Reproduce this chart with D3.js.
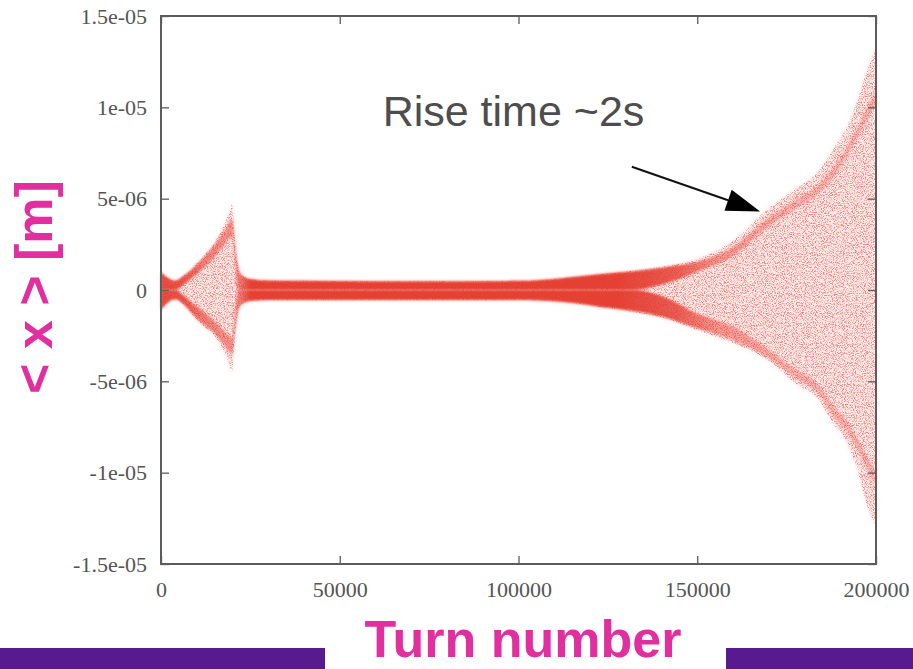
<!DOCTYPE html>
<html><head><meta charset="utf-8">
<script src="https://cdn.jsdelivr.net/npm/d3@7/dist/d3.min.js"></script>
<style>body{margin:0;background:#fff}svg{display:block}</style>
</head><body>
<svg id="c" width="913" height="669"></svg>
<script>
// ---- data (values in micrometres, i.e. 1e-6 m) ----
const turns = [0, 1000, 2500, 4000, 6000, 9000, 12000, 15000, 17500, 19000, 19900, 20700, 21500, 22500, 25000, 30000, 40000, 60000, 80000, 100000, 112000, 122000, 132000, 141000, 150000, 160000, 169500, 178000, 183500, 188000, 192000, 195000, 197500, 200000];
const upperEnv = [1.0, 0.8, 0.6, 0.5, 0.75, 1.25, 1.9, 2.6, 3.5, 4.2, 4.7, 2.7, 1.4, 0.85, 0.6, 0.52, 0.5, 0.48, 0.48, 0.5, 0.65, 0.85, 1.05, 1.3, 1.7, 2.7, 4.4, 5.6, 6.4, 7.7, 9.0, 10.5, 12.0, 13.3];
const lowerEnv = [-1.1, -0.85, -0.6, -0.5, -0.75, -1.4, -2.0, -2.5, -3.3, -4.0, -4.5, -2.4, -1.3, -0.8, -0.6, -0.55, -0.55, -0.55, -0.55, -0.55, -0.65, -0.9, -1.2, -1.55, -2.2, -2.9, -3.8, -5.2, -5.9, -7.3, -8.4, -10.0, -11.8, -12.9];
const upperDenseOut = [1.0, 0.8, 0.6, 0.5, 0.72, 1.2, 1.8, 2.5, 3.2, 3.7, 3.9, 2.5, 1.35, 0.85, 0.6, 0.52, 0.5, 0.48, 0.48, 0.5, 0.65, 0.85, 1.02, 1.25, 1.55, 2.35, 3.9, 5.0, 5.7, 6.7, 7.9, 9.0, 10.0, 11.0];
const upperDenseIn = [0, 0, 0, 0, 0.25, 0.7, 1.2, 1.8, 2.4, 2.8, 2.9, 1.5, 0, 0, 0, 0, 0, 0, 0, 0, 0, 0, 0, 0.35, 1.0, 1.85, 3.4, 4.5, 5.2, 6.1, 7.3, 8.4, 9.3, 10.2];
const lowerDenseOut = [-1.1, -0.85, -0.6, -0.5, -0.72, -1.35, -1.9, -2.4, -3.0, -3.4, -3.5, -2.3, -1.25, -0.8, -0.6, -0.55, -0.55, -0.55, -0.55, -0.55, -0.65, -0.9, -1.15, -1.5, -2.1, -2.75, -3.7, -4.9, -5.6, -6.9, -7.8, -8.8, -9.8, -10.8];
const lowerDenseIn = [0, 0, 0, 0, -0.25, -0.75, -1.2, -1.7, -2.2, -2.5, -2.6, -1.3, 0, 0, 0, 0, 0, 0, 0, 0, 0, 0, 0, -0.4, -1.3, -2.0, -3.2, -4.4, -5.1, -6.3, -7.2, -8.2, -9.1, -10.0];

const xTicks = [0, 50000, 100000, 150000, 200000];
const xTickLabels = ["0", "50000", "100000", "150000", "200000"];
const yTicks = [-1.5e-5, -1e-5, -5e-6, 0, 5e-6, 1e-5, 1.5e-5];
const yTickLabels = ["-1.5e-05", "-1e-05", "-5e-06", "0", "5e-06", "1e-05", "1.5e-05"];

const annotationText = "Rise time ~2s";
const annotationPos = [62000, 9.0e-6];
const arrowFrom = [131700, 6.75e-6];
const arrowTo = [167600, 4.3e-6];
const yTitle = "< x > [m]";
const xTitle = "Turn number";

// ---- layout ----
const W = 913, H = 669;
const L = 161, R = 876, T = 16, B = 564;
const svg = d3.select("#c");
const x = d3.scaleLinear().domain([0, 200000]).range([L, R]);
const y = d3.scaleLinear().domain([-1.5e-5, 1.5e-5]).range([B, T]);
const um = v => y(v * 1e-6);

const defs = svg.append("defs");
const f = defs.append("filter").attr("id", "speckle").attr("x", 0).attr("y", 0).attr("width", "100%").attr("height", "100%");
f.append("feTurbulence").attr("type", "fractalNoise").attr("baseFrequency", 0.9).attr("numOctaves", 2).attr("seed", 7).attr("result", "n");
f.append("feColorMatrix").attr("in", "n").attr("type", "matrix")
  .attr("values", "0 0 0 0 0.87  0 0 0 0 0.22  0 0 0 0 0.2  4.2 0 0 0 -1.95");
const blur = defs.append("filter").attr("id", "soft");
blur.append("feGaussianBlur").attr("stdDeviation", 0.9);
const blur2 = defs.append("filter").attr("id", "soft2").attr("x", "-5%").attr("y", "-5%").attr("width", "110%").attr("height", "110%");
blur2.append("feGaussianBlur").attr("stdDeviation", 2);

const grad = defs.append("linearGradient").attr("id", "dens").attr("gradientUnits", "userSpaceOnUse")
  .attr("x1", x(0)).attr("x2", x(200000)).attr("y1", 0).attr("y2", 0);
[[0, 0.9], [0.03, 0.85], [0.06, 0.6], [0.095, 0.45], [0.11, 0.6], [0.125, 0.95], [0.64, 0.95], [0.72, 0.8], [0.78, 0.45], [0.88, 0.3], [1, 0.28]]
  .forEach(([o, a]) => grad.append("stop").attr("offset", o).attr("stop-color", "#e43a2e").attr("stop-opacity", a));

const idx = d3.range(turns.length);
const env = d3.area().curve(d3.curveMonotoneX).x(i => x(turns[i])).y0(i => um(lowerEnv[i])).y1(i => um(upperEnv[i]));
const upBand = d3.area().curve(d3.curveMonotoneX).x(i => x(turns[i])).y0(i => um(upperDenseIn[i])).y1(i => um(upperDenseOut[i]));
const loBand = d3.area().curve(d3.curveMonotoneX).x(i => x(turns[i])).y0(i => um(lowerDenseOut[i])).y1(i => um(lowerDenseIn[i]));

defs.append("clipPath").attr("id", "envclip").append("path").attr("d", env(idx));

// light envelope
svg.append("path").attr("d", env(idx)).attr("fill", "#f3c2bd").attr("fill-opacity", 0.35).attr("filter", "url(#soft2)");
// speckles
svg.append("g").attr("clip-path", "url(#envclip)")
  .append("rect").attr("x", L).attr("y", T).attr("width", R - L).attr("height", B - T).attr("filter", "url(#speckle)");
// dense bands
svg.append("path").attr("d", upBand(idx)).attr("fill", "url(#dens)").attr("filter", "url(#soft)");
svg.append("path").attr("d", loBand(idx)).attr("fill", "url(#dens)").attr("filter", "url(#soft)");

// frame + axes (gnuplot style, mirrored inward ticks)
const axisColor = "#5c5c5c";
function styleAxis(g) {
  g.select(".domain").remove();
  g.selectAll(".tick line").attr("stroke", axisColor).attr("stroke-width", 1.3);
  g.selectAll(".tick text").attr("fill", "#555").attr("font-family", "'Liberation Serif', 'Times New Roman', serif").attr("font-size", 22);
}
svg.append("g").attr("transform", `translate(${L},0)`)
  .call(d3.axisLeft(y).tickValues(yTicks).tickSize(-8).tickPadding(14).tickFormat((d, i) => yTickLabels[i])).call(styleAxis);
svg.append("g").attr("transform", `translate(${R},0)`)
  .call(d3.axisRight(y).tickValues(yTicks).tickSize(-8).tickFormat("")).call(styleAxis);
svg.append("g").attr("transform", `translate(0,${B})`)
  .call(d3.axisBottom(x).tickValues(xTicks).tickSize(-8).tickPadding(17).tickFormat((d, i) => xTickLabels[i])).call(styleAxis);
svg.append("g").attr("transform", `translate(0,${T})`)
  .call(d3.axisTop(x).tickValues(xTicks).tickSize(-8).tickFormat("")).call(styleAxis);
svg.append("rect").attr("x", L).attr("y", T).attr("width", R - L).attr("height", B - T)
  .attr("fill", "none").attr("stroke", axisColor).attr("stroke-width", 2);

// annotation
svg.append("text").attr("x", x(annotationPos[0])).attr("y", y(annotationPos[1]))
  .attr("font-family", "'Liberation Sans', Arial, sans-serif").attr("font-size", 43).attr("fill", "#4d4d4d")
  .text(annotationText);
const ax1 = x(arrowFrom[0]), ay1 = y(arrowFrom[1]), ax2 = x(arrowTo[0]), ay2 = y(arrowTo[1]);
const ang = Math.atan2(ay2 - ay1, ax2 - ax1);
const hl = 34, hw = 11;
const bx = ax2 - hl * Math.cos(ang), by = ay2 - hl * Math.sin(ang);
svg.append("line").attr("x1", ax1).attr("y1", ay1).attr("x2", bx).attr("y2", by).attr("stroke", "#111").attr("stroke-width", 2);
svg.append("path").attr("fill", "#000")
  .attr("d", `M${ax2},${ay2}L${bx - hw * Math.sin(ang)},${by + hw * Math.cos(ang)}L${bx + hw * Math.sin(ang)},${by - hw * Math.cos(ang)}Z`);

// purple bars and titles
svg.append("rect").attr("x", 0).attr("y", 648).attr("width", 325).attr("height", H - 648).attr("fill", "#581b8f");
svg.append("rect").attr("x", 726).attr("y", 648).attr("width", W - 726).attr("height", H - 648).attr("fill", "#581b8f");
svg.append("text").attr("x", 523).attr("y", 657).attr("text-anchor", "middle")
  .attr("font-family", "'Liberation Sans', Arial, sans-serif").attr("font-weight", "bold").attr("font-size", 52)
  .attr("fill", "#e12fa0").text(xTitle);
svg.append("text").attr("transform", "translate(52,287) rotate(-90)").attr("text-anchor", "middle")
  .attr("font-family", "'Liberation Sans', Arial, sans-serif").attr("font-weight", "bold").attr("font-size", 52)
  .attr("fill", "#e12fa0").text(yTitle);
</script>
</body></html>
